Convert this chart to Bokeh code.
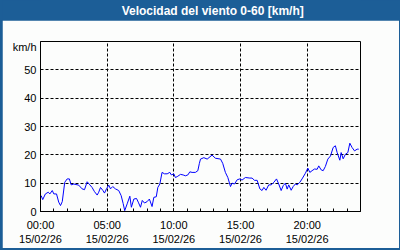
from bokeh.plotting import figure
from bokeh.layouts import column
from bokeh.models import FixedTicker, Label, Range1d, ColumnDataSource
from bokeh.embed import file_html
from bokeh.resources import INLINE

title_text = "Velocidad del viento 0-60 [km/h]"
unit_label = "km/h"

times = ["00:03", "00:10", "00:22", "00:35", "00:42", "00:53", "01:00", "01:12", "01:22", "01:30",
         "01:38", "01:49", "02:00", "02:10", "02:18", "02:30", "02:52", "03:07", "03:18", "03:30",
         "03:42", "03:52", "04:03", "04:15", "04:22", "04:30", "04:41", "04:48", "04:57", "05:07",
         "05:15", "05:25", "05:37", "05:52", "06:03", "06:12", "06:19", "06:30", "06:42", "06:49",
         "07:00", "07:12", "07:20", "07:30", "07:38", "07:48", "08:00", "08:10", "08:22", "08:30",
         "08:41", "08:48", "08:57", "09:07", "09:18", "09:30", "09:42", "09:49", "10:00", "10:07",
         "10:15", "10:30", "10:42", "10:52", "11:03", "11:12", "11:22", "11:37", "11:48", "11:55",
         "12:00", "12:15", "12:30", "12:52", "13:07", "13:30", "13:40", "13:52", "14:03", "14:15",
         "14:22", "14:33", "14:45", "14:57", "15:07", "15:22", "15:42", "15:52", "16:03", "16:15",
         "16:27", "16:37", "16:45", "16:55", "17:07", "17:18", "17:30", "17:42", "17:52", "18:03",
         "18:12", "18:22", "18:30", "18:37", "18:48", "18:57", "19:07", "19:15", "19:27", "19:37",
         "19:52", "20:03", "20:12", "20:22", "20:33", "20:45", "20:52", "21:03", "21:12", "21:22",
         "21:33", "21:45", "21:57", "22:07", "22:15", "22:27", "22:33", "22:42", "22:52", "23:03",
         "23:12", "23:22", "23:33", "23:45", "23:52"]
speed = [5.6, 4.2, 6.2, 6.8, 6.2, 7.4, 6.2, 6.2, 3.3, 2.1,
         3.5, 10.3, 11.5, 11.5, 9.4, 9.7, 9.3, 8.0, 7.7, 10.5,
         9.4, 8.5, 7.0, 5.8, 6.8, 8.5, 7.4, 6.5, 8.0, 9.3,
         8.0, 8.8, 8.0, 7.4, 5.6, 2.8, 0.3, 2.7, 5.4, 1.5,
         4.4, 4.6, 3.3, 1.5, 3.9, 3.0, 3.5, 4.4, 1.75, 5.0,
         5.2, 8.5, 9.7, 13.8, 13.3, 13.3, 13.8, 12.9, 13.3, 12.0,
         12.3, 13.1, 12.9, 12.6, 12.9, 14.0, 13.8, 13.8, 14.4, 17.0,
         18.5, 19.0, 18.5, 19.9, 18.8, 18.5, 17.0, 13.8, 12.0, 8.8,
         10.0, 9.7, 11.2, 11.5, 11.1, 12.0, 11.8, 11.8, 11.0, 11.0,
         8.0, 7.4, 8.5, 7.5, 9.4, 9.4, 10.3, 11.5, 9.7, 7.4,
         9.1, 10.0, 7.9, 9.4, 7.5, 8.8, 9.7, 9.4, 10.3, 11.5,
         13.5, 15.3, 13.8, 14.4, 15.0, 14.9, 16.1, 14.7, 14.4, 15.9,
         18.5, 19.6, 22.6, 23.2, 20.8, 18.1, 20.8, 18.6, 20.2, 20.8,
         24.1, 22.6, 21.4, 22.0, 22.0]

x_ticks = [0, 5, 10, 15, 20]
x_tick_labels = ["00:00\n15/02/26", "05:00\n15/02/26", "10:00\n15/02/26",
                 "15:00\n15/02/26", "20:00\n15/02/26"]
y_ticks = [0, 10, 20, 30, 40, 50]
y_unit_tick = 58.2  # where the unit caption sits on the value axis

hours = [int(t[:2]) + int(t[3:]) / 60 for t in times]
src = ColumnDataSource(data=dict(h=hours, v=speed))

BLUE = "#1c5e97"
BG = "#fcfdfc"
FONT = "Liberation Sans"

# title bar
tf = figure(width=398, height=20, output_backend="svg", toolbar_location=None,
            x_range=Range1d(2, 400), y_range=Range1d(0, 20),
            x_axis_location=None, y_axis_location=None,
            min_border=0, min_border_left=0, min_border_right=0,
            min_border_top=0, min_border_bottom=0)
tf.background_fill_color = BLUE
tf.border_fill_color = BLUE
tf.outline_line_color = None
tf.grid.visible = False
tf.add_layout(Label(x=215.5, y=10, text=title_text, text_align="center",
                    text_baseline="middle", text_color="white", text_font=FONT,
                    text_font_size="12px", text_font_style="bold"))

# main chart
p = figure(width=397, height=228, output_backend="svg", toolbar_location=None,
           x_range=Range1d(0, 24), y_range=Range1d(0, 60),
           min_border_left=38, min_border_right=39, min_border_top=21, min_border_bottom=37)
p.border_fill_color = BG
p.background_fill_color = BG
p.outline_line_color = "black"
p.outline_line_width = 1

p.line("h", "v", source=src, line_color="#0000ff", line_width=1)

xa = p.xaxis[0]
xa.ticker = FixedTicker(ticks=x_ticks, minor_ticks=list(range(0, 25)))
xa.major_label_overrides = dict(zip(x_ticks, x_tick_labels))
xa.major_tick_in = 3
xa.major_tick_out = 0
xa.minor_tick_in = 3
xa.minor_tick_out = 0
xa.major_label_standoff = 7
xa.axis_line_color = "black"
xa.major_label_text_font = FONT
xa.major_label_text_font_size = "11px"
xa.major_label_text_color = "black"

ya = p.yaxis[0]
ya.ticker = FixedTicker(ticks=y_ticks + [y_unit_tick])
ya.major_label_overrides = {y_unit_tick: unit_label}
ya.major_tick_in = 0
ya.major_tick_out = 0
ya.minor_tick_line_color = None
ya.major_label_standoff = 4
ya.axis_line_color = "black"
ya.major_label_text_font = FONT
ya.major_label_text_font_size = "11px"
ya.major_label_text_color = "black"

for g in (p.xgrid[0], p.ygrid[0]):
    g.grid_line_color = "black"
    g.grid_line_dash = "3 2"
    g.grid_line_width = 1
p.xgrid[0].ticker = FixedTicker(ticks=x_ticks[1:])
p.ygrid[0].ticker = FixedTicker(ticks=y_ticks[1:])

layout = column(tf, p, spacing=0,
                styles={"background-color": BLUE, "padding": "0px 1px 2px 2px"})

open("out.html", "w").write(file_html(layout, INLINE))
